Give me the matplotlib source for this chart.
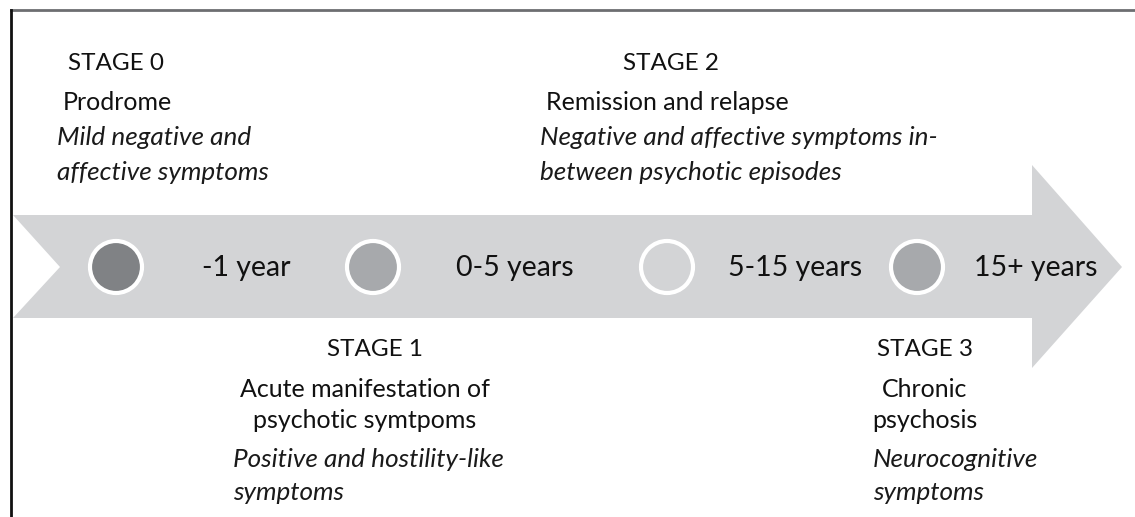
import matplotlib
matplotlib.use("Agg")
import matplotlib.pyplot as plt
from matplotlib.patches import Polygon, Circle

# stage texts
stage_names = ["STAGE 0", "STAGE 1", "STAGE 2", "STAGE 3"]
stage_titles = [["Prodrome"],
                ["Acute manifestation of", "psychotic symtpoms"],
                ["Remission and relapse"],
                ["Chronic", "psychosis"]]
stage_notes = [["Mild negative and", "affective symptoms"],
               ["Positive and hostility-like", "symptoms"],
               ["Negative and affective symptoms in-", "between psychotic episodes"],
               ["Neurocognitive", "symptoms"]]
periods = ["-1 year", "0-5 years", "5-15 years", "15+ years"]
dot_colors = ["#808285", "#a7a9ac", "#d3d4d6", "#a7a9ac"]

W, H = 1135, 517
fig = plt.figure(figsize=(W / 100, H / 100), dpi=100)
ax = fig.add_axes([0, 0, 1, 1])
ax.set_xlim(0, W)
ax.set_ylim(H, 0)
ax.axis("off")

font = "Lato"
fs_head = 17.5
fs_title = 18
fs_note = 18.8
fs_period = 20.5

# frame lines
ax.plot([11, W], [10, 10], color="#6d6e71", lw=2)
ax.plot([11, 11], [10, H], color="#111111", lw=2)

# big arrow
arrow = Polygon([(13, 215), (1032, 215), (1032, 165), (1122, 267),
                 (1032, 368), (1032, 318), (13, 318), (60, 267)],
                closed=True, facecolor="#d3d4d6", edgecolor="none")
ax.add_patch(arrow)

dot_x = [116, 373, 667, 917]
label_x = [246, 515, 795, 1036]
for i in range(4):
    ax.add_patch(Circle((dot_x[i], 267), 26, facecolor=dot_colors[i],
                        edgecolor="white", lw=3, zorder=3))
    ax.text(label_x[i], 276, periods[i], ha="center", va="baseline",
            fontsize=fs_period, family=font, color="#111111")

# text blocks: baselines of the lines
head_x = [116, 375, 671, 925]
title_x = [117, 365, 667, 925]
note_x = [57, 233, 540, 873]
head_base = [70, 356, 70, 356]
title_base = [[110], [397, 428], [110], [397, 428]]
note_base = [[145, 180], [467, 500], [145, 180], [467, 500]]

for i in range(4):
    ax.text(head_x[i], head_base[i], stage_names[i], ha="center", va="baseline",
            fontsize=fs_head, family=font, color="#111111")
    for line, yb in zip(stage_titles[i], title_base[i]):
        ax.text(title_x[i], yb, line, ha="center", va="baseline",
                fontsize=fs_title, family=font, color="#111111")
    for line, yb in zip(stage_notes[i], note_base[i]):
        ax.text(note_x[i], yb, line, ha="left", va="baseline",
                fontsize=fs_note, family=font, style="italic", color="#1a1a1a")

fig.savefig("out.png", dpi=100)
